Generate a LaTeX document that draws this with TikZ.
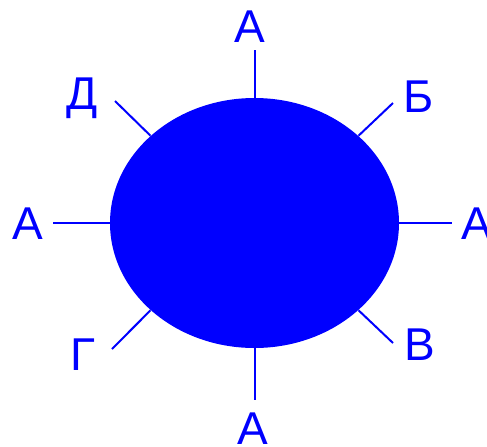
\documentclass[tikz,border=0pt]{standalone}
\usepackage{fontspec}
\setmainfont{Liberation Sans}
\definecolor{PureBlue}{RGB}{0,0,255}
\usetikzlibrary{shapes.geometric}

\begin{document}
\begin{tikzpicture}[
    x=0.5pt, y=-0.5pt,
    every node/.style={font=\fontsize{23}{23}\selectfont, text=PureBlue},
    spike/.style={draw=PureBlue, line width=1pt}
  ]
    \useasboundingbox (0,0) rectangle (487,446);
    % the body
    \node[ellipse, fill=PureBlue, inner sep=0pt, minimum width=144.5pt, minimum height=125pt] (blob) at (254.5,223) {};

    % free ends of the spikes
    \coordinate (tN) at (254.5,50);
    \coordinate (tNE) at (393,103);
    \coordinate (tE) at (452,223);
    \coordinate (tSE) at (393,343);
    \coordinate (tS) at (254.5,400);
    \coordinate (tSW) at (112,349);
    \coordinate (tW) at (53,223);
    \coordinate (tNW) at (115,101);

    \draw[spike] (blob.north) -- (tN);
    \draw[spike] (blob.40) -- (tNE);
    \draw[spike] (blob.east) -- (tE);
    \draw[spike] (blob.320) -- (tSE);
    \draw[spike] (blob.south) -- (tS);
    \draw[spike] (blob.220) -- (tSW);
    \draw[spike] (blob.west) -- (tW);
    \draw[spike] (blob.140) -- (tNW);

    % labels
    \node (lN) at (250,27) {А};
    \node (lNE) at (419,97) {Б};
    \node (lE) at (477,224) {А};
    \node (lSE) at (420,345) {В};
    \node (lS) at (253,429) {А};
    \node (lSW) at (83,355) {Г};
    \node (lW) at (28,224) {А};
    \node (lNW) at (82,98) {Д};
\end{tikzpicture}
\end{document}
